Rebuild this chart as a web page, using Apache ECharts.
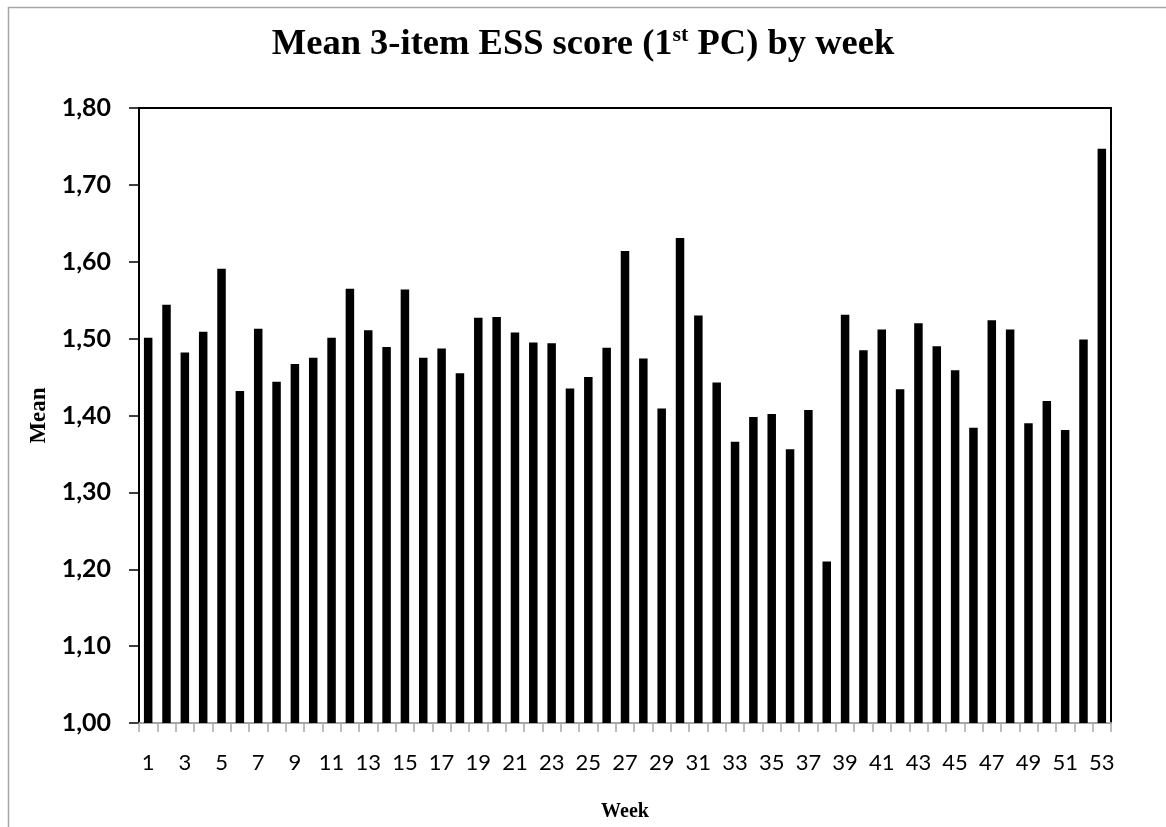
<!DOCTYPE html>
<html>
<head>
<meta charset="utf-8">
<script src="https://cdn.jsdelivr.net/npm/echarts@6/dist/echarts.min.js"></script>
<style>
  html, body { margin: 0; padding: 0; background: #fff; }
  #chart { width: 1166px; height: 827px; }
</style>
</head>
<body>
<div id="chart"></div>
<script>
// weeks 1..53
var weeks = ['1','2','3','4','5','6','7','8','9','10','11','12','13','14','15','16','17','18','19','20',
  '21','22','23','24','25','26','27','28','29','30','31','32','33','34','35','36','37','38','39','40',
  '41','42','43','44','45','46','47','48','49','50','51','52','53'];

// mean score per week
var meanValues = [1.501, 1.544, 1.482, 1.509, 1.591, 1.432, 1.513, 1.444, 1.467, 1.475,
  1.501, 1.565, 1.511, 1.489, 1.564, 1.475, 1.487, 1.455, 1.527, 1.528,
  1.508, 1.495, 1.494, 1.435, 1.450, 1.488, 1.614, 1.474, 1.409, 1.631,
  1.530, 1.443, 1.366, 1.398, 1.402, 1.356, 1.407, 1.210, 1.531, 1.485,
  1.512, 1.434, 1.520, 1.490, 1.459, 1.384, 1.524, 1.512, 1.390, 1.419,
  1.381, 1.499, 1.747];

// y tick labels (comma decimal)
var yTicks = ['1,00','1,10','1,20','1,30','1,40','1,50','1,60','1,70','1,80'];

var chart = echarts.init(document.getElementById('chart'));

var option = {
  backgroundColor: '#fff',
  animation: false,
  title: {
    text: '{a|Mean 3-item ESS score (1}{s|st}{a| PC) by week}',
    left: 'center',
    top: 19,
    textStyle: {
      rich: {
        a: { fontFamily: 'Liberation Serif', fontWeight: 'bold', fontSize: 36.5, color: '#000' },
        s: { fontFamily: 'Liberation Serif', fontWeight: 'bold', fontSize: 22, color: '#000', verticalAlign: 'top', padding: [0, 0, 20, 0] }
      }
    }
  },
  graphic: [{
    // outer chart frame
    type: 'rect',
    shape: { x: 8.5, y: 7.5, width: 1300, height: 1000 },
    style: { fill: 'none', stroke: '#a6a6a6', lineWidth: 1.5 },
    silent: true
  }],
  grid: {
    left: 139,
    right: 55,
    top: 108,
    bottom: 96,
    show: true,
    borderColor: '#000',
    borderWidth: 2,
    backgroundColor: 'transparent'
  },
  xAxis: {
    type: 'category',
    data: weeks,
    name: 'Week',
    nameLocation: 'middle',
    nameGap: 79,
    nameTextStyle: { fontFamily: 'Liberation Serif', fontWeight: 'bold', fontSize: 20, color: '#000' },
    axisLine: { show: true, lineStyle: { color: '#a6a6a6', width: 2 } },
    axisTick: { show: true, interval: 0, length: 9, lineStyle: { color: '#a6a6a6', width: 1.5 } },
    axisLabel: { interval: 1, margin: 29, fontFamily: 'Lato', fontSize: 22, color: '#000' },
    splitLine: { show: false }
  },
  yAxis: {
    type: 'value',
    min: 1,
    max: 1.8,
    interval: 0.1,
    name: 'Mean',
    nameLocation: 'middle',
    nameGap: 87,
    nameTextStyle: { fontFamily: 'Liberation Serif', fontWeight: 'bold', fontSize: 23, color: '#000' },
    axisLine: { show: true, lineStyle: { color: '#000', width: 2 } },
    axisTick: { show: true, inside: false, length: 10, lineStyle: { color: '#000', width: 1.5 } },
    axisLabel: {
      margin: 28,
      fontFamily: 'Lato',
      fontWeight: 'bold',
      fontSize: 25,
      color: '#000',
      formatter: function (v) {
        return yTicks[Math.round((v - 1) * 10)];
      }
    },
    splitLine: { show: false }
  },
  series: [{
    name: 'Mean',
    type: 'bar',
    data: meanValues,
    barWidth: 8.5,
    itemStyle: { color: '#000' }
  }]
};

chart.setOption(option);
</script>
</body>
</html>
